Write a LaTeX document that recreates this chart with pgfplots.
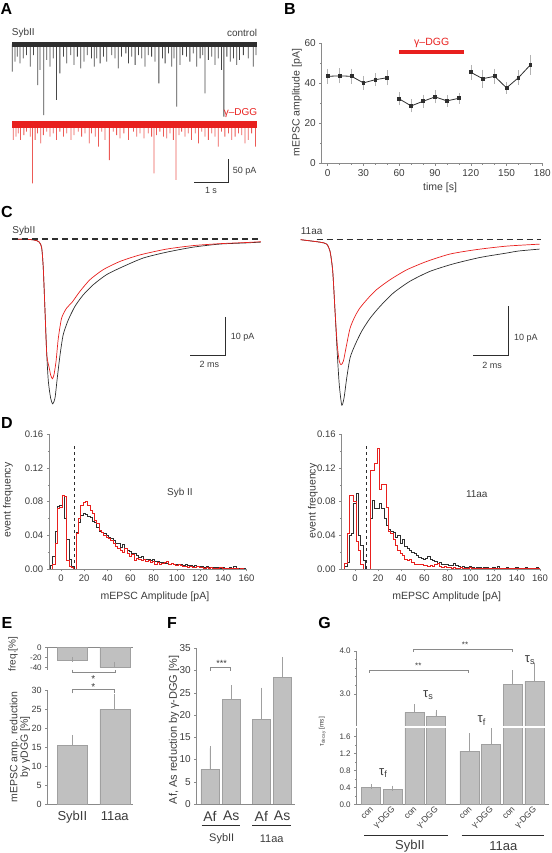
\documentclass[border=0pt]{standalone}
\usepackage{fontspec}
\setmainfont{Liberation Sans}
\usepackage{pgfplots}
\pgfplotsset{compat=1.18}
\definecolor{tr}{HTML}{E8201E}
\definecolor{trl}{HTML}{EC5A56}
\definecolor{axg}{HTML}{8A8A8A}
\definecolor{txt}{HTML}{3C3C3C}
\definecolor{kk}{HTML}{2E2E2E}
\definecolor{spk}{HTML}{474747}
\definecolor{barf}{HTML}{C0C0C0}
\definecolor{bare}{HTML}{A0A0A0}
\newcommand\fs[1]{\fontsize{#1}{#1}\selectfont}
\pgfplotsset{
 myax/.style={scale only axis, anchor=south west, axis x line*=bottom, axis y line*=left,
  axis line style={axg,-,line width=0.6pt}, tick style={axg,line width=0.5pt}, tick align=outside,
  major tick length=2.5pt, minor tick length=1.5pt,
  tick label style={text=txt}, /pgf/number format/assume math mode=true},
 barsty/.style={ybar, bar width=#1, fill=barf, draw=bare, line width=0.5pt,
  error bars/.cd, y dir=plus, y explicit, error bar style={bare, line width=0.6pt}, error mark=-, error mark options={bare, mark size=2.5pt, line width=0.6pt}},
}
\begin{document}
\begin{tikzpicture}[x=1pt,y=1pt]
\path[use as bounding box] (0,0) rectangle (551,853);
\tikzset{lab/.style={inner sep=0pt, text=txt}}
% panel letters
\foreach \L/\X/\Y in {A/6.5/9.5, B/290/9.5, C/7/212, D/7/423, E/7/623, F/172/623, G/324.5/623}
  \node[inner sep=0pt, font=\fs{16}\bfseries] at (\X, 853-\Y) {\L};

% ---------- A ----------
\begin{axis}[at={(12pt,734.1pt)}, anchor=south west, scale only axis, width=244.9pt, height=76.8pt,
  xmin=0, xmax=7.42, ymin=-155, ymax=5, hide axis, clip=false]
\addplot[ybar, bar width=0.8pt, fill=spk, draw=none] coordinates {
(0.01,-56.6) (0.09,-35.8) (0.16,-25.3) (0.24,-39.2) (0.34,-28.8) (0.44,-21.9) (0.55,-46.2) (0.65,-21.9)
(0.78,-84.4) (0.85,-53.1) (0.96,-146.9) (1.05,-32.3) (1.15,-46.2) (1.25,-28.8) (1.35,-115.6) (1.45,-60.1)
(1.56,-25.3) (1.66,-39.2) (1.78,-21.9) (1.88,-42.7) (1.98,-25.3) (2.08,-49.7) (2.18,-35.8) (2.28,-21.9)
(2.41,-28.8) (2.49,-46.2) (2.57,-28.8) (2.67,-39.2) (2.77,-25.3) (2.87,-35.8) (3.02,-21.9) (3.12,-28.8)
(3.22,-49.7) (3.32,-25.3) (3.45,-18.4) (3.53,-39.2) (3.63,-25.3) (3.73,-42.7) (3.83,-21.9) (3.93,-28.8)
(4.03,-46.2) (4.13,-21.9) (4.23,-25.3) (4.33,-35.8) (4.45,-80.9) (4.56,-28.8) (4.64,-39.2) (4.74,-18.4)
(4.84,-46.2) (4.91,-28.8) (4.99,-129.5) (5.09,-42.7) (5.17,-21.9) (5.29,-25.3) (5.39,-35.8) (5.49,-18.4)
(5.60,-46.2) (5.70,-28.8) (5.78,-21.9) (5.85,-101.7) (5.95,-32.3) (6.05,-25.3) (6.15,-42.7) (6.25,-28.8)
(6.35,-53.1) (6.42,-150.3) (6.51,-25.3) (6.61,-35.8) (6.71,-28.8) (6.81,-42.7) (6.89,-32.3) (7.01,-21.9)
(7.16,-28.8) (7.31,-46.2) (7.39,-21.9)};
\addplot[fill=kk, draw=none] coordinates {(0,-5.2) (0,5.2) (7.42,5.2) (7.42,-5.2)} -- cycle;
\end{axis}
\begin{axis}[at={(12pt,666.1pt)}, anchor=south west, scale only axis, width=244.9pt, height=64.8pt,
  xmin=0, xmax=7.42, ymin=-130, ymax=5, hide axis, clip=false]
\addplot[ybar, bar width=0.8pt, fill=trl, draw=none] coordinates {
(0.04,-32.3) (0.12,-25.3) (0.19,-18.4) (0.26,-32.3) (0.36,-21.9) (0.44,-14.9) (0.55,-25.3) (0.62,-122.6)
(0.70,-32.3) (0.77,-18.4) (0.87,-39.2) (0.95,-21.9) (1.05,-14.9) (1.15,-25.3) (1.25,-18.4) (1.35,-32.3)
(1.45,-14.9) (1.56,-25.3) (1.66,-18.4) (1.79,-32.3) (1.88,-21.9) (2.01,-14.9) (2.11,-25.3) (2.21,-18.4)
(2.34,-39.2) (2.41,-18.4) (2.52,-25.3) (2.62,-46.2) (2.72,-14.9) (2.82,-32.3) (2.95,-74.0) (3.07,-14.9)
(3.17,-21.9) (3.27,-28.8) (3.39,-18.4) (3.53,-32.3) (3.68,-14.9) (3.78,-25.3) (3.88,-18.4) (4.00,-28.8)
(4.13,-18.4) (4.23,-25.3) (4.30,-101.7) (4.38,-21.9) (4.48,-14.9) (4.59,-25.3) (4.69,-28.8) (4.79,-18.4)
(4.89,-32.3) (4.97,-115.6) (5.06,-21.9) (5.14,-14.9) (5.24,-25.3) (5.34,-18.4) (5.44,-32.3) (5.55,-18.4)
(5.65,-39.2) (5.75,-14.9) (5.85,-25.3) (5.95,-32.3) (6.05,-18.4) (6.15,-25.3) (6.25,-46.2) (6.35,-14.9)
(6.45,-25.3) (6.56,-18.4) (6.66,-32.3) (6.76,-25.3) (6.86,-18.4) (6.96,-21.9) (7.06,-39.2) (7.16,-32.3)
(7.26,-18.4) (7.38,-46.2)};
\addplot[fill=tr, draw=none] coordinates {(0,-6.3) (0,6.3) (7.42,6.3) (7.42,-6.3)} -- cycle;
\end{axis}
\node[lab, anchor=west, font=\fs{10}] at (11.7, 853-32.7) {SybII};
\node[lab, anchor=east, font=\fs{10}] at (257.3, 853-32.7) {control};
\node[inner sep=0pt, anchor=east, font=\fs{10}, text=tr] at (257.3, 853-113.3) {γ–DGG};
\draw[kk, line width=1.1pt] (228.3, 853-159.3) -- (228.3, 853-182.7) -- (194.3, 853-182.7);
\node[lab, anchor=west, font=\fs{9}] at (232.7, 853-171.7) {50 pA};
\node[lab, font=\fs{9}] at (211, 853-190.7) {1 s};

% ---------- B ----------
\begin{axis}[myax, at={(321.7pt,689.7pt)}, width=220.6pt, height=120pt,
  xmin=-5, xmax=180, ymin=0, ymax=60, xtick={0,30,...,180}, ytick={0,20,40,60},
  minor x tick num=2, minor y tick num=1, tick label style={font=\fs{10}}, clip=false]
\draw[tr, line width=4pt] (axis cs:60,55.5) -- (axis cs:114,55.5);
\pgfplotsset{bpl/.style={kk, line width=0.8pt, mark=square*, mark size=1.4pt, mark options={kk},
  error bars/.cd, y dir=both, y explicit, error bar style={gray!60, line width=0.5pt},
  error mark=-, error mark options={gray!60, mark size=2pt, line width=0.5pt}}}
\addplot[bpl] coordinates {(0,43.5) +- (0,2.7) (10,43.7) +- (0,2.7) (20,43.5) +- (0,2.8)
  (30,40.2) +- (0,2.5) (40,41.8) +- (0,2.2) (50,42.8) +- (0,2.8)};
\addplot[bpl] coordinates {(60,32.2) +- (0,2.2) (70,28.7) +- (0,2.2) (80,31.0) +- (0,2.3)
  (90,33.2) +- (0,2.2) (100,31.2) +- (0,2.0) (110,32.5) +- (0,1.7)};
\addplot[bpl] coordinates {(120,45.5) +- (0,2.7) (130,42.3) +- (0,3.5) (140,43.5) +- (0,2.8)
  (150,37.7) +- (0,2.0) (160,42.8) +- (0,2.7) (170,49.2) +- (0,4.0)};
\end{axis}
\node[inner sep=0pt, font=\fs{10.5}, text=tr] at (431.7, 853-43) {γ–DGG};
\node[lab, rotate=90, font=\fs{10.5}] at (297, 853-102.7) {mEPSC amplitude [pA]};
\node[lab, font=\fs{10.5}] at (440, 853-188) {time [s]};

% ---------- C ----------
\begin{axis}[at={(12.3pt,443.7pt)}, anchor=south west, scale only axis, width=248.5pt, height=174.15pt,
  xmin=0, xmax=14.2, ymin=-44, ymax=1, hide axis, clip=false]
\addplot[kk, line width=0.7pt, smooth, tension=0.4] coordinates {(0,0) (1.20,-0.2) (1.54,-0.8) (1.68,-2.3)
 (1.77,-7.5) (1.87,-18.7) (1.97,-29.9) (2.06,-36.8) (2.19,-41.1) (2.31,-42.6) (2.44,-41.1) (2.57,-35.9)
 (2.73,-29.9) (2.91,-24.7) (3.20,-20.9) (3.58,-17.4) (4.06,-14.4) (4.63,-11.8) (5.39,-9.2) (6.34,-7.1)
 (7.49,-4.9) (8.82,-3.4) (10.34,-2.1) (11.87,-1.3) (13.39,-1.0) (14.2,-0.8)};
\addplot[tr, line width=0.7pt, smooth, tension=0.4] coordinates {(0,0) (1.20,-0.2) (1.54,-0.8) (1.68,-2.3)
 (1.77,-7.5) (1.87,-18.7) (1.97,-29.9) (2.11,-33.3) (2.19,-35.1) (2.29,-36.1) (2.38,-35.1) (2.50,-31.6)
 (2.63,-25.6) (2.82,-20.4) (3.11,-17.8) (3.39,-16.5) (3.87,-13.5) (4.44,-10.5) (5.20,-7.9) (6.15,-5.8)
 (7.30,-4.1) (8.82,-2.6) (10.34,-1.7) (11.87,-1.2) (13.39,-0.9) (14.2,-0.7)};
\end{axis}
\begin{axis}[at={(300.7pt,440.4pt)}, anchor=south west, scale only axis, width=240.7pt, height=177.84pt,
  xmin=0, xmax=13.6, ymin=-35, ymax=1, hide axis, clip=false]
\addplot[kk, line width=0.7pt, smooth, tension=0.4] coordinates {(0,0) (1.09,-0.5) (1.47,-0.9) (1.66,-2.4)
 (1.81,-6.4) (1.94,-14.5) (2.07,-23.3) (2.18,-29.4) (2.32,-33.5) (2.45,-32.0) (2.60,-28.0) (2.79,-23.9)
 (3.07,-21.3) (3.45,-18.5) (3.92,-15.9) (4.48,-13.5) (5.23,-10.8) (6.18,-8.4) (7.31,-6.4) (8.62,-4.9)
 (10.13,-3.6) (11.64,-2.7) (12.29,-2.3) (13.5,-1.9)};
\addplot[tr, line width=0.7pt, smooth, tension=0.4] coordinates {(0,0) (1.09,-0.5) (1.47,-0.9) (1.66,-2.4)
 (1.81,-6.4) (1.94,-14.5) (2.07,-21.5) (2.18,-24.6) (2.28,-25.3) (2.41,-24.6) (2.56,-21.9) (2.79,-17.9)
 (3.07,-15.5) (3.35,-13.8) (3.82,-11.8) (4.29,-10.1) (5.05,-8.1) (5.99,-6.1) (7.12,-4.4) (8.44,-2.9)
 (9.94,-2.0) (11.64,-1.3) (13.5,-0.9)};
\end{axis}
\draw[kk, line width=1.3pt, dash pattern=on 6pt off 4pt] (12.3, 853-239) -- (261, 853-239);
\draw[kk, line width=1.3pt, dash pattern=on 6pt off 4pt] (316.7, 853-239.7) -- (541, 853-239.7);
\node[lab, anchor=west, font=\fs{10}] at (12.3, 853-231) {SybII};
\node[lab, anchor=west, font=\fs{10}] at (300.7, 853-231) {11aa};
\draw[kk, line width=1.1pt] (225.3, 853-317) -- (225.3, 853-355.7) -- (190.3, 853-355.7);
\node[lab, anchor=west, font=\fs{9}] at (230.7, 853-337.3) {10 pA};
\node[lab, font=\fs{9}] at (209.3, 853-364.7) {2 ms};
\draw[kk, line width=1.1pt] (508.7, 853-306.3) -- (508.7, 853-355.7) -- (473.3, 853-355.7);
\node[lab, anchor=west, font=\fs{9}] at (514, 853-338.6) {10 pA};
\node[lab, font=\fs{9}] at (492, 853-365.3) {2 ms};

% ---------- D ----------
\pgfplotsset{dax/.style={myax, height=134.7pt, xmax=160, ymin=0, ymax=0.16,
  xtick={0,20,...,160}, ytick={0,0.04,...,0.161}, minor y tick num=1,
  tick label style={font=\fs{9.5}},
  yticklabel style={/pgf/number format/.cd, fixed, fixed zerofill, precision=2}},
  hist/.style={const plot mark left, line width=0.75pt}}
\begin{axis}[dax, at={(49.3pt,284pt)}, width=197.2pt, xmin=-10]
\draw[kk, dashed, line width=0.6pt] (axis cs:11.5,0) -- (axis cs:11.5,0.147);
\addplot[hist, kk] coordinates {(-9,0) (-9,0.004) (-7,0.015) (-5,0.045) (-3,0.074) (-1,0.076) (1,0.087) (3,0.060)
(5,0.035) (7,0.012) (9,0.003) (11,0) (13,0) (13,0.043) (15,0.055) (17,0.064) (19,0.066) (21,0.065) (23,0.062)
(25,0.061) (27,0.057) (29,0.055) (31,0.050) (33,0.045) (35,0.044) (37,0.042) (39,0.040) (41,0.038) (43,0.036)
(45,0.034) (47,0.030) (49,0.031) (51,0.026) (53,0.029) (55,0.024) (57,0.022) (59,0.021) (61,0.018) (63,0.018)
(65,0.016) (67,0.014) (69,0.015) (71,0.012) (73,0.012) (75,0.011) (77,0.010) (79,0.011) (81,0.009) (83,0.009)
(85,0.008) (87,0.008) (89,0.007) (91,0.007) (93,0.006) (95,0.007) (97,0.006) (99,0.005) (101,0.006) (103,0.005)
(105,0.004) (107,0.006) (109,0.004) (111,0.004) (113,0.003) (115,0.004) (117,0.003) (119,0.003) (121,0.003)
(123,0.002) (125,0.003) (127,0.002) (129,0.002) (131,0.002) (133,0.002) (135,0.002) (137,0.001) (139,0.002)
(141,0.001) (143,0.001) (145,0.002) (147,0.001) (149,0.003) (151,0.001) (153,0.001) (155,0.001) (157,0.001)
(159,0) (160,0)};
\addplot[hist, tr] coordinates {(-7,0) (-7,0.005) (-5,0.030) (-3,0.072) (-1,0.073) (1,0.088) (3,0.086) (5,0.010)
(7,0.003) (9,0.002) (11,0) (13,0) (13,0.042) (15,0.060) (17,0.075) (19,0.079) (21,0.080) (23,0.076) (25,0.070)
(27,0.066) (29,0.058) (31,0.054) (33,0.046) (35,0.044) (37,0.040) (39,0.038) (41,0.036) (43,0.034) (45,0.030)
(47,0.027) (49,0.024) (51,0.022) (53,0.020) (55,0.024) (57,0.018) (59,0.015) (61,0.017) (63,0.010) (65,0.013)
(67,0.012) (69,0.010) (71,0.011) (73,0.009) (75,0.010) (77,0.008) (79,0.009) (81,0.006) (83,0.008) (85,0.006)
(87,0.007) (89,0.008) (91,0.009) (93,0.006) (95,0.007) (97,0.005) (99,0.004) (101,0.005) (103,0.004) (105,0.003)
(107,0.003) (109,0.002) (111,0.003) (113,0.002) (115,0.002) (117,0.003) (119,0.002) (121,0.002) (123,0.001)
(125,0.002) (127,0.001) (129,0.002) (131,0.001) (133,0.001) (135,0.001) (137,0.002) (139,0.001) (141,0.001)
(143,0.001) (145,0.001) (147,0.001) (149,0.001) (151,0.001) (153,0) (155,0.001) (157,0) (159,0) (160,0)};
\node[lab, font=\fs{10}] at (axis cs:102.6,0.090) {Syb II};
\end{axis}
\begin{axis}[dax, at={(341.7pt,284pt)}, width=198.3pt, xmin=-11.5]
\draw[kk, dashed, line width=0.6pt] (axis cs:10,0) -- (axis cs:10,0.147);
\addplot[hist, kk] coordinates {(-9,0) (-9,0.003) (-7,0.008) (-5,0.040) (-3,0.042) (-1,0.078) (1,0.090) (3,0.040)
(5,0.028) (7,0.010) (9,0) (13,0) (13,0.060) (15,0.082) (17,0.072) (19,0.072) (21,0.078) (23,0.072) (25,0.060)
(27,0.052) (29,0.047) (31,0.045) (33,0.043) (35,0.037) (37,0.040) (39,0.031) (41,0.035) (43,0.027) (45,0.024)
(47,0.022) (49,0.020) (51,0.018) (53,0.016) (55,0.014) (57,0.013) (59,0.012) (61,0.013) (63,0.015) (65,0.012)
(67,0.010) (69,0.009) (71,0.007) (73,0.008) (75,0.006) (77,0.005) (79,0.006) (81,0.004) (83,0.004) (85,0.007)
(87,0.004) (89,0.003) (91,0.002) (93,0.003) (95,0.002) (97,0.002) (99,0.003) (101,0.002) (103,0.001) (105,0.002)
(107,0.002) (109,0.001) (111,0.002) (113,0.002) (115,0.001) (117,0.001) (119,0.002) (121,0.001) (123,0.003)
(125,0.001) (127,0.001) (129,0.001) (131,0.002) (133,0.001) (135,0.001) (137,0.001) (139,0.002) (141,0.001)
(143,0.001) (145,0.001) (147,0.002) (149,0.001) (151,0.001) (153,0.001) (155,0.001) (157,0.002) (159,0) (160,0)};
\addplot[hist, tr] coordinates {(-9,0) (-9,0.007) (-7,0.042) (-5,0.088) (-3,0.088) (-1,0.080) (1,0.033) (3,0.022)
(5,0.005) (7,0) (13,0) (13,0.117) (15,0.117) (17,0.125) (19,0.143) (21,0.095) (23,0.100) (25,0.100) (27,0.073)
(29,0.045) (31,0.042) (33,0.035) (35,0.028) (37,0.022) (39,0.018) (41,0.016) (43,0.012) (45,0.010) (47,0.012)
(49,0.008) (51,0.006) (53,0.006) (55,0.005) (57,0.005) (59,0.004) (61,0.004) (63,0.003) (65,0.004) (67,0.003)
(69,0.006) (71,0.007) (73,0.003) (75,0.002) (77,0.003) (79,0.002) (81,0.002) (83,0.001) (85,0.002) (87,0.001)
(89,0.001) (91,0.002) (93,0.001) (95,0.001) (97,0.001) (99,0.002) (101,0.001) (103,0.001) (105,0.001) (107,0.001)
(109,0.001) (111,0.001) (113,0.001) (115,0.001) (117,0.001) (119,0.001) (121,0.001) (123,0.001) (125,0.001)
(127,0.001) (129,0.001) (131,0.001) (133,0.001) (135,0.001) (137,0.001) (139,0.001) (141,0.001) (143,0.001)
(145,0.001) (147,0.001) (149,0.001) (151,0.001) (153,0.001) (155,0.001) (157,0.001) (159,0.001) (160,0.001)};
\node[lab, font=\fs{10}] at (axis cs:105.3,0.089) {11aa};
\end{axis}
\node[lab, rotate=90, font=\fs{10.5}] at (8, 853-500) {event frequency};
\node[lab, rotate=90, font=\fs{10.5}] at (313, 853-501) {event frequency};
\node[lab, font=\fs{10.5}] at (155, 853-596.7) {mEPSC Amplitude [pA]};
\node[lab, font=\fs{10.5}] at (446.7, 853-597) {mEPSC Amplitude [pA]};

% ---------- E ----------
\begin{axis}[myax, at={(47.7pt,183.3pt)}, width=85.3pt, height=22pt, axis x line*=top,
  xmin=0.42, xmax=2.43, ymin=-44, ymax=0, xtick=\empty, ytick={-40,-20,0},
  yticklabels={{-40},{-20},{0}}, tick label style={font=\fs{8}}]
\addplot[barsty=30pt] coordinates {(1,-25.3) +- (0,2) (2,-39.5) +- (0,6)};
\end{axis}
\begin{axis}[myax, at={(47.7pt,48.7pt)}, width=85.3pt, height=113.6pt,
  xmin=0.42, xmax=2.43, ymin=0, ymax=30, xtick={1,2}, xticklabels={SybII,11aa},
  ytick={0,5,...,30}, xtick style={draw=none}, yticklabel style={font=\fs{9}},
  xticklabel style={font=\fs{13}, yshift=-1pt}]
\addplot[barsty=30pt] coordinates {(1,15.5) +- (0,2.2) (2,25.1) +- (0,3.3)};
\end{axis}
\node[lab, rotate=90, font=\fs{10}] at (13, 853-654) {freq.[\%]};
\node[lab, rotate=90, font=\fs{10.5}, align=center] at (20, 853-747) {\fontsize{10.5}{10.6}\selectfont mEPSC amp. reduction\\ by γDGG [\%]};
\draw[axg, line width=0.6pt] (72, 853-669.7) -- (72, 853-672.7) -- (115.3, 853-672.7) -- (115.3, 853-669.7);
\draw[axg, line width=0.6pt] (72, 853-693.3) -- (72, 853-689.3) -- (114, 853-689.3) -- (114, 853-693.3);
\node[lab, font=\fs{10}] at (93.3, 853-679.5) {*};
\node[lab, font=\fs{10}] at (93.3, 853-687) {*};

% ---------- F ----------
\begin{axis}[myax, at={(196.7pt,49pt)}, width=98.1pt, height=155.7pt,
  xmin=0.373, xmax=5.0, ymin=0, ymax=35, xtick={1,2,3.42,4.4}, xticklabels={Af,As,Af,As},
  ytick={0,5,...,35}, xtick style={draw=none}, yticklabel style={font=\fs{10}},
  xticklabel style={font=\fs{14}, yshift=-1pt}]
\addplot[barsty=18pt] coordinates {(1,7.8) +- (0,4.7) (2,23.6) +- (0,2.5) (3.42,19.1) +- (0,6.5) (4.4,28.5) +- (0,4.0)};
\end{axis}
\node[lab, rotate=90, font=\fs{11}] at (174, 853-730) {Af, As reduction by γ-DGG [\%]};
\draw[axg, line width=0.6pt] (210.7, 853-671) -- (210.7, 853-667.7) -- (230.7, 853-667.7) -- (230.7, 853-671);
\node[lab, font=\fs{9}] at (221.7, 853-663) {***};
\draw[kk, line width=0.7pt] (201.7, 853-825.7) -- (240, 853-825.7);
\draw[kk, line width=0.7pt] (252, 853-825.7) -- (291, 853-825.7);
\node[lab, font=\fs{11}] at (221.7, 853-838.3) {SybII};
\node[lab, font=\fs{11}] at (271.7, 853-838.3) {11aa};

% ---------- G ----------
\begin{axis}[myax, at={(356.7pt,48.7pt)}, width=192.7pt, height=77.3pt,
  xmin=0.33, xmax=9.25, ymin=0, ymax=1.83, ytick={0,0.4,...,1.61}, minor y tick num=1,
  xtick={1,2,3,4,5.55,6.55,7.55,8.55}, xticklabels={con,γ-DGG,con,γ-DGG,con,γ-DGG,con,γ-DGG},
  xtick style={draw=none}, yticklabel style={font=\fs{8}, /pgf/number format/.cd, fixed, fixed zerofill, precision=1},
  xticklabel style={font=\fs{8.5}, rotate=45, anchor=east, xshift=3pt, yshift=-2pt}]
\addplot[barsty=19pt] coordinates {(1,0.40) +- (0,0.02) (2,0.36) +- (0,0.02) (3,2.57) +- (0,0.13) (4,2.47) +- (0,0.10)
  (5.55,1.26) +- (0,0.36) (6.55,1.41) +- (0,0.35) (7.55,3.22) +- (0,0.27) (8.55,3.29) +- (0,0.38)};
\end{axis}
\begin{axis}[myax, at={(356.7pt,126pt)}, width=192.7pt, height=76.1pt, axis x line=none,
  xmin=0.33, xmax=9.25, ymin=2.23, ymax=4.0, ytick={3,4}, minor y tick num=4,
  yticklabel style={font=\fs{8}, /pgf/number format/.cd, fixed, fixed zerofill, precision=1}]
\addplot[barsty=19pt] coordinates {(3,2.57) +- (0,0.13) (4,2.47) +- (0,0.10) (7.55,3.22) +- (0,0.27) (8.55,3.29) +- (0,0.38)};
\end{axis}
\draw[white, line width=1.5pt] (356, 853-727) -- (548, 853-727);
\node[lab, rotate=90, font=\fs{6.5}] at (322.3, 853-731.7) {τ\textsubscript{decay} [ms]};
\draw[axg, line width=0.6pt] (369.3, 853-672.7) -- (369.3, 853-670) -- (468.3, 853-670) -- (468.3, 853-672.7);
\node[lab, font=\fs{8}] at (418.3, 853-666) {**};
\draw[axg, line width=0.6pt] (413.3, 853-651.7) -- (413.3, 853-649) -- (512.3, 853-649) -- (512.3, 853-651.7);
\node[lab, font=\fs{8}] at (465, 853-645) {**};
\node[lab, font=\fs{13}] at (383.3, 853-773.3) {τ\textsubscript{f}};
\node[lab, font=\fs{13}] at (428.3, 853-695) {τ\textsubscript{s}};
\node[lab, font=\fs{13}] at (481.7, 853-720.7) {τ\textsubscript{f}};
\node[lab, font=\fs{13}] at (530, 853-660) {τ\textsubscript{s}};
\draw[kk, line width=0.7pt] (364, 853-835) -- (448.3, 853-835);
\draw[kk, line width=0.7pt] (461.7, 853-835) -- (544.3, 853-835);
\node[lab, font=\fs{13}] at (410, 853-846.5) {SybII};
\node[lab, font=\fs{13}] at (503.3, 853-846.5) {11aa};
\end{tikzpicture}
\end{document}
